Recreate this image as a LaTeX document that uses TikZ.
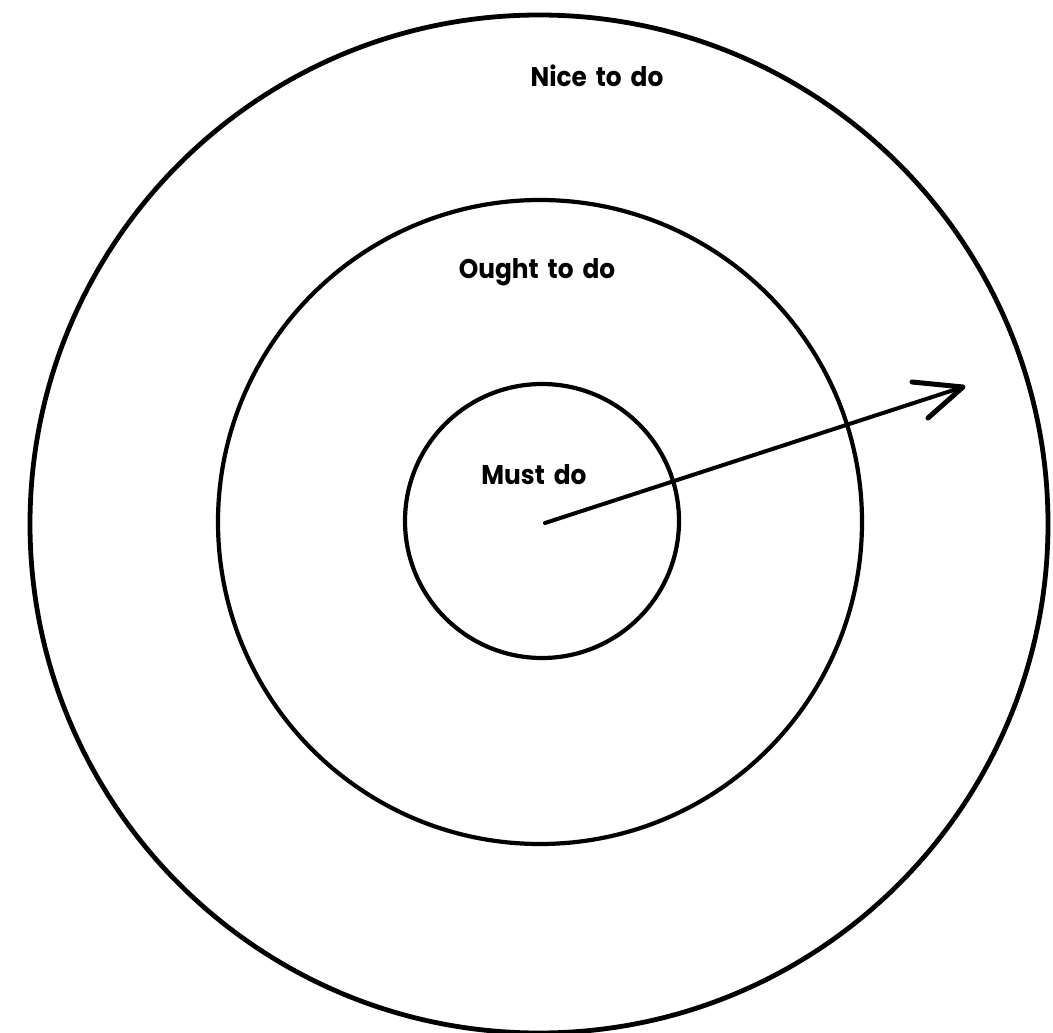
\documentclass[tikz,border=0pt]{standalone}
\usepackage{fontspec}
\setmainfont{Poppins}
\newfontfamily\lblfont[FakeStretch=0.92,WordSpace=1.7]{Poppins}
\begin{document}
\begin{tikzpicture}[x=1pt,y=-1pt,
  ring/.style={circle,draw=black,fill=none,inner sep=0pt},
  lbl/.style={font=\lblfont\bfseries\fontsize{27}{33}\selectfont,inner sep=0pt,anchor=center},
  arrowline/.style={line width=4pt,line cap=round,line join=round}]
\useasboundingbox[fill=white] (0,0) rectangle (1053,1033);
\node[ring,line width=4.8pt,minimum size=1018pt] (outer) at (539,524) {};
\node[ring,line width=4.2pt,minimum size=644pt] (middle) at (540,522) {};
\node[ring,line width=4.2pt,minimum size=274pt] (inner) at (542,521) {};
\node[lbl] (nice) at (597,76) {Nice to do};
\node[lbl] (ought) at (537,272) {Ought to do};
\node[lbl] (must) at (534,475) {Must do};
\coordinate (c) at (545,523);
\coordinate (tip) at (963,387);
\coordinate (b1) at (912,382);
\coordinate (b2) at (928,418);
\draw[arrowline] (c) -- (tip);
\draw[arrowline,line width=5pt] (b1) -- (tip) -- (b2);
\end{tikzpicture}
\end{document}
